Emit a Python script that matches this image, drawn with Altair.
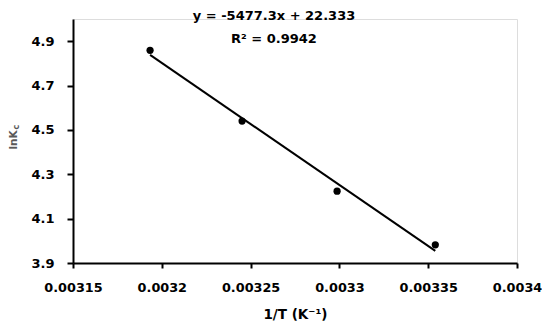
import altair as alt
import pandas as pd

# data
inv_T = [0.0031934, 0.0032452, 0.0032987, 0.0033540]
ln_Kc = [4.859, 4.540, 4.224, 3.982]

eq_lines = ["y = -5477.3x + 22.333", "R² = 0.9942"]

x_ticks = [0.00315, 0.0032, 0.00325, 0.0033, 0.00335, 0.0034]
y_ticks = [3.9, 4.1, 4.3, 4.5, 4.7, 4.9]

df = pd.DataFrame({"x": inv_T, "y": ln_Kc})

FONT = "DejaVu Sans"

xs = alt.Scale(domain=[0.00315, 0.0034], nice=False, zero=False)
ys = alt.Scale(domain=[3.9, 5.0], nice=False, zero=False)

base = alt.Chart(df)

points = base.mark_circle(size=52, color="black", opacity=1).encode(
    x=alt.X("x:Q", scale=xs,
            axis=alt.Axis(values=x_ticks, format=".5~f", title="1/T (K⁻¹)",
                          grid=False, domainColor="black", domainWidth=2,
                          tickColor="black", tickWidth=2, tickSize=5,
                          labelFlush=False, labelOverlap=False,
                          labelFont=FONT, labelFontWeight="bold", labelFontSize=12.8,
                          labelColor="black", labelPadding=13,
                          titleFont=FONT, titleFontWeight="bold", titleFontSize=13.5,
                          titleColor="black", titlePadding=14)),
    y=alt.Y("y:Q", scale=ys,
            axis=alt.Axis(values=y_ticks, format=".1f", title=None,
                          grid=False, domainColor="black", domainWidth=2,
                          tickColor="black", tickWidth=2, tickSize=6,
                          labelFlush=False, labelOverlap=False,
                          labelFont=FONT, labelFontWeight="bold", labelFontSize=13,
                          labelColor="black", labelPadding=13)),
)

fit = base.transform_regression("x", "y").mark_line(color="black", strokeWidth=2).encode(
    x=alt.X("x:Q", scale=xs), y=alt.Y("y:Q", scale=ys)
)

eq_df = pd.DataFrame({"t": eq_lines, "row": [0, 1]})
eq1 = alt.Chart(eq_df).transform_filter("datum.row == 0").mark_text(
    font=FONT, fontWeight="bold", fontSize=13, color="black", align="center", baseline="middle"
).encode(text="t:N", x=alt.value(201), y=alt.value(-3))
eq2 = alt.Chart(eq_df).transform_filter("datum.row == 1").mark_text(
    font=FONT, fontWeight="bold", fontSize=13, color="black", align="center", baseline="middle"
).encode(text="t:N", x=alt.value(201), y=alt.value(20))

ytitle_df = pd.DataFrame({"t": ["lnK"], "s": ["c"]})
yt1 = alt.Chart(ytitle_df).mark_text(
    font=FONT, fontWeight="bold", fontSize=10.5, color="#595959", angle=270,
    align="center", baseline="middle"
).encode(text="t:N", x=alt.value(-59), y=alt.value(121))
yt2 = alt.Chart(ytitle_df).mark_text(
    font=FONT, fontWeight="bold", fontSize=8, color="#595959", angle=270,
    align="center", baseline="middle"
).encode(text="s:N", x=alt.value(-56), y=alt.value(108))

chart = alt.layer(points, fit, eq1, eq2, yt1, yt2).properties(
    width=444, height=244,
    autosize=alt.AutoSizeParams(type="none"),
    padding={"left": 65, "top": 11, "right": 25, "bottom": 60},
).configure_view(stroke=None).configure(background="white")

chart.save("out.html", embed_options={"renderer": "svg", "actions": False})
